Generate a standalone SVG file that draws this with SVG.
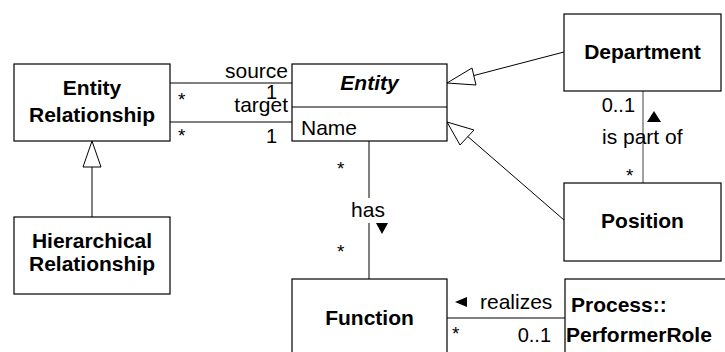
<svg xmlns="http://www.w3.org/2000/svg" width="725" height="352" viewBox="0 0 725 352">
  <style>
    .box { fill: #fff; stroke: #000; stroke-width: 1.2; }
    .ln { fill: none; stroke: #000; stroke-width: 1; }
    .gen { fill: #fff; stroke: #000; stroke-width: 1; }
    .name { font-family: "Liberation Sans", Arial, sans-serif; font-size: 21px; font-weight: bold; text-anchor: middle; fill: #000; }
    .lbl { font-family: "Liberation Sans", Arial, sans-serif; font-size: 21px; fill: #000; }
    .mult { font-family: "Liberation Sans", Arial, sans-serif; font-size: 20px; fill: #000; }
    .star { font-family: "Liberation Sans", Arial, sans-serif; font-size: 19px; fill: #000; }
    .end { text-anchor: end; }
    .mid { text-anchor: middle; }
  </style>

  <g id="connectors">
    <!-- associations between Entity Relationship and Entity -->
    <line class="ln" x1="170" y1="83" x2="292" y2="83"/>
    <line class="ln" x1="170" y1="122" x2="292" y2="122"/>
    <text class="lbl end" x="288" y="78">source</text>
    <text class="mult end" x="277" y="99">1</text>
    <text class="lbl end" x="288" y="112">target</text>
    <text class="star" x="178" y="106">*</text>
    <text class="mult end" x="277" y="143">1</text>
    <text class="star" x="178" y="142">*</text>

    <!-- generalization: Hierarchical Relationship to Entity Relationship -->
    <line class="ln" x1="92" y1="217" x2="92" y2="166"/>
    <polygon class="gen" points="92,141 83,167 101,167"/>

    <!-- generalization: Department to Entity -->
    <line class="ln" x1="564" y1="52" x2="472" y2="76"/>
    <polygon class="gen" points="447,83 472,68 476,85"/>

    <!-- generalization: Position to Entity -->
    <line class="ln" x1="564" y1="220" x2="466" y2="135"/>
    <polygon class="gen" points="447,122 460,145 474,130"/>

    <!-- Department / Position: is part of -->
    <line class="ln" x1="643" y1="91" x2="643" y2="183" style="stroke:#444"/>
    <text class="mult end" x="635" y="112">0..1</text>
    <polygon points="654,111 647,122 661,122" fill="#000"/>
    <text class="lbl" x="602" y="144">is part of</text>
    <text class="star" x="626" y="182">*</text>

    <!-- Entity / Function: has -->
    <line class="ln" x1="369" y1="141" x2="369" y2="279"/>
    <text class="star" x="337" y="175">*</text>
    <rect x="350" y="198" width="38" height="25" fill="#fff"/>
    <text class="lbl mid" x="368" y="217">has</text>
    <polygon points="376,223 388,223 382,234" fill="#000"/>
    <text class="star" x="337" y="258">*</text>

    <!-- Function / Process::PerformerRole: realizes -->
    <line class="ln" x1="447" y1="318" x2="565" y2="318"/>
    <polygon points="455,302 467,297 467,307" fill="#000"/>
    <text class="lbl" x="480" y="309">realizes</text>
    <text class="star" x="452" y="340">*</text>
    <text class="mult end" x="551" y="342">0..1</text>
  </g>

  <g id="entity-relationship">
    <rect class="box" x="14" y="64" width="156" height="77"/>
    <text class="name" x="92" y="95">Entity</text>
    <text class="name" x="92" y="122">Relationship</text>
  </g>

  <g id="hierarchical-relationship">
    <rect class="box" x="14" y="217" width="156" height="77"/>
    <text class="name" x="92" y="248">Hierarchical</text>
    <text class="name" x="92" y="271">Relationship</text>
  </g>

  <g id="entity">
    <rect class="box" x="292" y="64" width="155" height="77"/>
    <line class="ln" x1="292" y1="107" x2="447" y2="107" style="stroke-width:1.2"/>
    <text class="name" x="369.5" y="90" font-style="italic">Entity</text>
    <text class="lbl" x="301" y="135">Name</text>
  </g>

  <g id="department">
    <rect class="box" x="564" y="14" width="157" height="77"/>
    <text class="name" x="642.5" y="59">Department</text>
  </g>

  <g id="position">
    <rect class="box" x="564" y="183" width="157" height="78"/>
    <text class="name" x="642.5" y="228">Position</text>
  </g>

  <g id="function">
    <rect class="box" x="292" y="279" width="155" height="90"/>
    <text class="name" x="369.5" y="325">Function</text>
  </g>

  <g id="performer-role">
    <rect class="box" x="565" y="279" width="180" height="90"/>
    <text class="name" x="571" y="312" style="text-anchor:start">Process::</text>
    <text class="name" x="566" y="342" style="text-anchor:start">PerformerRole</text>
  </g>
</svg>
